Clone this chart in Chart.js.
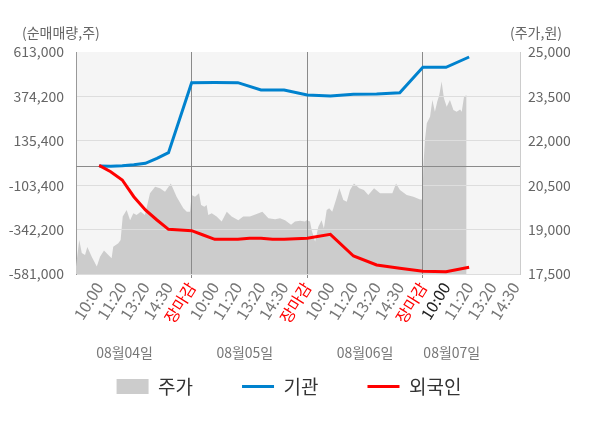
<!DOCTYPE html>
<html>
<head>
<meta charset="utf-8">
<script src="https://cdn.jsdelivr.net/npm/chart.js@4.4.0/dist/chart.umd.min.js"></script>
<style>
  html, body { margin: 0; padding: 0; background: #fff; }
  #wrap { width: 600px; height: 428px; }
</style>
</head>
<body>
<div id="wrap"><canvas id="chart"></canvas></div>
<script>
// x 축: 1칸 = 라벨 하나, 하루 = 5칸 (마지막 날은 진행 중)
const timeLabels = [
  '10:00', '11:20', '13:20', '14:30', '장마감',
  '10:00', '11:20', '13:20', '14:30', '장마감',
  '10:00', '11:20', '13:20', '14:30', '장마감',
  '10:00', '11:20', '13:20', '14:30'
];
const dayLabels = ['08월04일', '08월05일', '08월06일', '08월07일'];
const dayLabelAt = [2.1, 7.3, 12.5, 16.25];

const volumeTicks = [-581000, -342200, -103400, 135400, 374200, 613000];
const priceTicks = [17500, 19000, 20500, 22000, 23500, 25000];

// 주가 (원)
const price = [
  [0.00, 17750], [0.14, 18650], [0.25, 18210], [0.39, 18140], [0.49, 18410],
  [0.68, 18080], [0.90, 17750], [1.04, 18080], [1.21, 18290], [1.40, 18140],
  [1.54, 18030], [1.61, 18420], [1.83, 18540], [1.93, 18650], [2.02, 19440],
  [2.19, 19660], [2.34, 19320], [2.48, 19550], [2.62, 19490], [2.80, 19600],
  [2.98, 19490], [3.20, 20230], [3.42, 20450], [3.63, 20400], [3.85, 20280],
  [4.10, 20560], [4.35, 20110], [4.64, 19720], [4.79, 19600], [4.93, 19600],
  [5.00, 20170], [5.15, 20110], [5.32, 20230], [5.41, 19830], [5.55, 19770],
  [5.65, 19830], [5.72, 19490], [5.87, 19550], [6.08, 19440], [6.30, 19270],
  [6.52, 19600], [6.73, 19440], [7.02, 19320], [7.23, 19440], [7.52, 19440],
  [7.81, 19530], [8.06, 19600], [8.32, 19380], [8.61, 19350], [8.82, 19380],
  [9.04, 19320], [9.30, 19160], [9.47, 19270], [9.69, 19300], [9.90, 19270],
  [9.98, 19320], [10.12, 19270], [10.19, 18990], [10.34, 18590], [10.48, 19100],
  [10.62, 19320], [10.72, 19040], [10.84, 19660], [10.95, 19720], [11.08, 19600],
  [11.24, 20000], [11.39, 20400], [11.56, 20000], [11.71, 19940], [11.85, 20340],
  [12.02, 20560], [12.25, 20400], [12.45, 20340], [12.64, 20170], [12.89, 20400],
  [13.15, 20230], [13.44, 20230], [13.68, 20230], [13.84, 20560], [14.01, 20340],
  [14.30, 20170], [14.59, 20110], [14.88, 20020], [14.98, 20020],
  [15.02, 21120], [15.09, 22030], [15.17, 22590], [15.31, 22810], [15.41, 23380],
  [15.52, 22980], [15.62, 23320], [15.71, 23550], [15.81, 24000], [15.91, 23440],
  [16.03, 23150], [16.17, 23380], [16.32, 23040], [16.46, 22980], [16.61, 23060],
  [16.68, 22980], [16.78, 23490], [16.89, 23550]
];

// 누적 순매매량 (주)
const institution = [
  [1, 0], [1.5, -1000], [2, 1500], [2.5, 7000], [3, 14400], [3.5, 41300],
  [4, 71400], [5, 447900], [6, 449000], [7, 448000], [8, 408600], [9, 408600],
  [10, 381700], [11, 376400], [12, 385500], [13, 387100], [14, 394100],
  [15, 530700], [16, 530700], [17, 586100]
];
const foreigner = [
  [1, 3000], [1.5, -30800], [2, -75400], [2.5, -165300], [3, -236800],
  [3.5, -290600], [4, -340600], [4.5, -344400], [5, -348100], [5.5, -371200],
  [6, -394400], [7, -394400], [7.5, -389000], [8, -389000], [8.5, -394400],
  [9, -394400], [9.5, -391100], [10, -389000], [11, -367500], [12, -484200],
  [13, -532600], [14, -550300], [15, -566500], [16, -568600], [17, -545000]
];

const toXY = rows => rows.map(([x, y]) => ({ x, y }));
const fmt = v => v.toLocaleString('en-US');

Chart.defaults.font.family = "'Noto Sans CJK KR', 'Noto Sans', sans-serif";
Chart.defaults.color = '#666';

const chartDecor = {
  id: 'chartDecor',
  beforeDraw(chart) {
    const { ctx, chartArea: a } = chart;
    ctx.save();
    ctx.fillStyle = '#f5f5f5';
    ctx.fillRect(a.left, a.top, a.right - a.left, a.bottom - a.top);
    ctx.restore();
  },
  afterDatasetDraw(chart, args) {
    if (args.index !== 0) return;
    // 격자를 주가 영역 위에 다시 그림
    chart.scales.y.drawGrid(chart.chartArea);
    chart.scales.x.drawGrid(chart.chartArea);
    const { ctx, chartArea: a } = chart;
    const y0 = Math.round(chart.scales.y.getPixelForValue(0)) + 0.5;
    ctx.save();
    ctx.strokeStyle = '#8a8a8a';
    ctx.lineWidth = 1;
    ctx.beginPath();
    ctx.moveTo(a.left, y0);
    ctx.lineTo(a.right, y0);
    ctx.stroke();
    ctx.restore();
  },
  afterDraw(chart) {
    const { ctx, chartArea: a } = chart;
    ctx.save();
    ctx.fillStyle = '#666';
    ctx.textBaseline = 'middle';
    ctx.font = "14px 'Noto Sans CJK KR'";
    ctx.textAlign = 'left';
    ctx.fillText('(순매매량,주)', a.left - 54, a.top - 19);
    ctx.textAlign = 'right';
    ctx.fillText('(주가,원)', a.right + 42, a.top - 19);
    ctx.fillStyle = '#777';
    ctx.textAlign = 'center';
    dayLabels.forEach((d, i) => {
      ctx.fillText(d, chart.scales.x.getPixelForValue(dayLabelAt[i]), a.bottom + 79);
    });
    ctx.restore();
  }
};

new Chart(document.getElementById('chart'), {
  type: 'line',
  data: {
    datasets: [
      {
        label: '주가',
        data: toXY(price),
        yAxisID: 'y2',
        order: 3,
        fill: 'start',
        backgroundColor: '#cccccc',
        borderWidth: 0,
        pointRadius: 0,
        pointStyle: 'rect',
        pointBackgroundColor: '#cccccc',
        pointBorderWidth: 0,
        tension: 0
      },
      {
        label: '기관',
        data: toXY(institution),
        yAxisID: 'y',
        order: 2,
        borderColor: '#0082ce',
        borderWidth: 3,
        pointRadius: 0,
        pointStyle: 'line',
        pointBorderColor: '#0082ce',
        pointBorderWidth: 3,
        tension: 0
      },
      {
        label: '외국인',
        data: toXY(foreigner),
        yAxisID: 'y',
        order: 1,
        borderColor: '#ff0000',
        borderWidth: 3,
        pointRadius: 0,
        pointStyle: 'line',
        pointBorderColor: '#ff0000',
        pointBorderWidth: 3,
        tension: 0
      }
    ]
  },
  options: {
    responsive: true,
    maintainAspectRatio: false,
    animation: false,
    layout: { padding: { top: 52, left: 8, right: 30, bottom: 22 } },
    plugins: {
      tooltip: { enabled: false },
      legend: {
        position: 'bottom',
        labels: {
          usePointStyle: true,
          pointStyleWidth: 32,
          boxHeight: 15,
          padding: 49,
          color: '#333',
          font: { size: 19 },
          sort: (a, b) => a.datasetIndex - b.datasetIndex
        }
      }
    },
    scales: {
      x: {
        type: 'linear',
        min: 0,
        max: 19.2,
        afterBuildTicks: s => { s.ticks = timeLabels.map((_, i) => ({ value: i + 1 })); },
        afterFit: s => { s.height = 54; },
        ticks: {
          autoSkip: false,
          minRotation: 58,
          maxRotation: 58,
          padding: 1,
          font: { size: 16 },
          color: c => {
            const t = timeLabels[c.index];
            if (t === '장마감') return '#ff0000';
            return c.index === 15 ? '#222' : '#777';
          },
          callback: (v, i) => timeLabels[i]
        },
        grid: {
          color: c => timeLabels[c.index] === '장마감' ? '#8a8a8a' : 'rgba(0,0,0,0)',
          tickLength: 4
        },
        border: { color: '#999' }
      },
      y: {
        position: 'left',
        min: volumeTicks[0],
        max: volumeTicks[volumeTicks.length - 1],
        afterBuildTicks: s => { s.ticks = volumeTicks.map(v => ({ value: v })); },
        afterFit: s => { s.width = 68; },
        ticks: { padding: 12, font: { size: 14 }, color: '#666', callback: v => fmt(v) },
        grid: {
          drawTicks: false,
          color: c => c.index === volumeTicks.length - 1 ? 'rgba(0,0,0,0)' : '#dddddd'
        },
        border: { color: '#999' }
      },
      y2: {
        position: 'right',
        min: priceTicks[0],
        max: priceTicks[priceTicks.length - 1],
        afterBuildTicks: s => { s.ticks = priceTicks.map(v => ({ value: v })); },
        afterFit: s => { s.width = 50; },
        ticks: { padding: 8, font: { size: 14 }, color: '#666', callback: v => fmt(v) },
        grid: { display: false, drawTicks: false },
        border: { color: '#cccccc' }
      }
    }
  },
  plugins: [chartDecor]
});
</script>
</body>
</html>
